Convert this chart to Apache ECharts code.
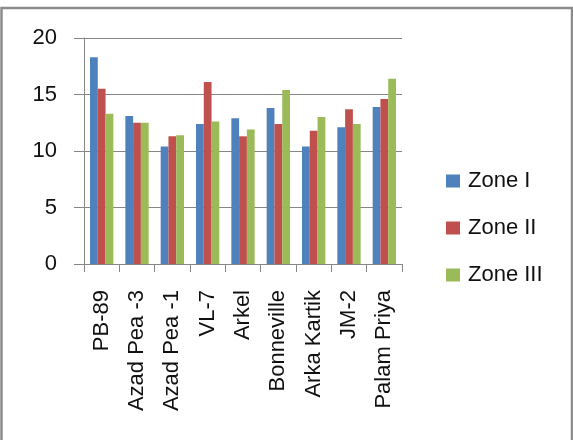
<!DOCTYPE html>
<html>
<head>
<meta charset="utf-8">
<script src="https://cdn.jsdelivr.net/npm/echarts@6/dist/echarts.min.js"></script>
<style>html,body{margin:0;padding:0;background:#fff;}#c{width:573px;height:440px;}</style>
</head>
<body>
<div id="c"></div>
<script>
var categories = ['PB-89', 'Azad Pea -3', 'Azad Pea -1', 'VL-7', 'Arkel', 'Bonneville', 'Arka Kartik', 'JM-2', 'Palam Priya'];
var zone1 = [18.3, 13.1, 10.4, 12.4, 12.9, 13.8, 10.4, 12.1, 13.9];
var zone2 = [15.5, 12.5, 11.3, 16.1, 11.3, 12.4, 11.8, 13.7, 14.6];
var zone3 = [13.3, 12.5, 11.4, 12.6, 11.9, 15.4, 13.0, 12.4, 16.4];
var yTicks = [0, 5, 10, 15, 20];

var font = "'Liberation Sans', Arial, sans-serif";
var chart = echarts.init(document.getElementById('c'), null, {renderer: 'canvas'});
chart.setOption({
  animation: false,
  backgroundColor: '#fff',
  graphic: [{
    type: 'rect',
    shape: {x: 1.5, y: 8, width: 570.5, height: 440},
    style: {fill: 'none', stroke: '#8c8c8c', lineWidth: 2.5},
    silent: true
  }],
  legend: {
    orient: 'vertical',
    left: 441,
    top: 165,
    padding: 5,
    itemWidth: 14,
    itemHeight: 13,
    itemGap: 25,
    icon: 'rect',
    textStyle: {fontFamily: font, fontSize: 22, lineHeight: 22, color: '#111', padding: [0, 0, 0, 3]},
    data: ['Zone I', 'Zone II', 'Zone III']
  },
  grid: {left: 84, right: 171, top: 38, bottom: 176, containLabel: false},
  xAxis: {
    type: 'category',
    data: categories,
    axisLine: {lineStyle: {color: '#868686', width: 1}},
    axisTick: {show: true, alignWithLabel: false, length: 8, lineStyle: {color: '#868686'}},
    axisLabel: {rotate: 90, margin: 26, fontFamily: font, fontSize: 22, color: '#111', interval: 0}
  },
  yAxis: {
    type: 'value',
    min: 0,
    max: 20,
    interval: 5,
    axisLine: {show: true, lineStyle: {color: '#868686', width: 1}},
    axisTick: {show: true, length: 10, lineStyle: {color: '#868686'}},
    splitLine: {lineStyle: {color: '#868686', width: 1}},
    axisLabel: {margin: 27, fontFamily: font, fontSize: 22, color: '#111',
      formatter: function (v) { return yTicks.indexOf(v) >= 0 ? String(v) : ''; }}
  },
  series: [
    {name: 'Zone I', type: 'bar', data: zone1, barGap: '0%', barCategoryGap: '34%', itemStyle: {color: '#4F81BD'}},
    {name: 'Zone II', type: 'bar', data: zone2, barGap: '0%', barCategoryGap: '34%', itemStyle: {color: '#C0504D'}},
    {name: 'Zone III', type: 'bar', data: zone3, barGap: '0%', barCategoryGap: '34%', itemStyle: {color: '#9BBB59'}}
  ]
});
</script>
</body>
</html>
